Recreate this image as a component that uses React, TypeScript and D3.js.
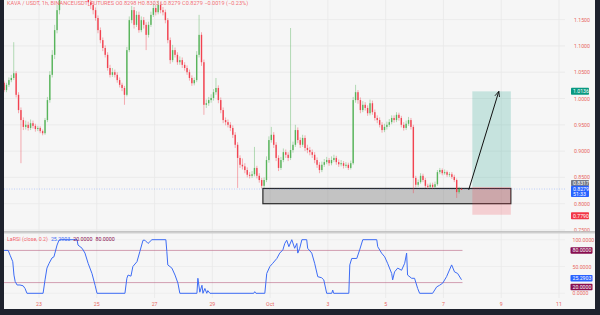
import React from 'react';
import * as d3 from 'd3';

const W = 600;
const H = 315;

// ---- data ----
const startTime = new Date(2023, 8, 21, 19); // first bar
const barHours = 2;
const firstOpen = 1.03;

const closes = [
  1.016, 1.026, 1.035, 1.039, 1.048, 1.007, 0.978, 0.959, 0.946, 0.95,
  0.944, 0.953, 0.948, 0.942, 0.944, 0.938, 0.934, 0.959, 0.997, 1.045,
  1.083, 1.13, 1.168, 1.197, 1.216, 1.229, 1.24, 1.248, 1.244, 1.254,
  1.244, 1.235, 1.221, 1.206, 1.197, 1.183, 1.178, 1.168, 1.153, 1.13,
  1.111, 1.096, 1.083, 1.058, 1.045, 1.05, 1.045, 1.035, 1.026, 1.02,
  1.007, 1.092, 1.149, 1.168, 1.14, 1.159, 1.13, 1.149, 1.14, 1.121,
  1.14, 1.159, 1.172, 1.164, 1.178, 1.168, 1.164, 1.149, 1.111, 1.073,
  1.092, 1.083, 1.069, 1.073, 1.064, 1.058, 1.05, 1.039, 1.029, 1.035,
  1.083, 1.121, 1.069, 0.988, 0.991, 0.997, 1.001, 1.012, 1.02, 0.997,
  0.978, 0.959, 0.955, 0.95, 0.944, 0.931, 0.912, 0.887, 0.874, 0.871,
  0.864, 0.855, 0.853, 0.856, 0.868, 0.853, 0.845, 0.834, 0.845, 0.883,
  0.921, 0.931, 0.912, 0.887, 0.868, 0.883, 0.898, 0.893, 0.887, 0.902,
  0.912, 0.94, 0.921, 0.912, 0.925, 0.906, 0.902, 0.898, 0.893, 0.883,
  0.874, 0.864, 0.874, 0.879, 0.883, 0.877, 0.883, 0.887, 0.879, 0.875,
  0.877, 0.872, 0.874, 0.868, 0.877, 0.997, 1.012, 0.997, 0.978, 0.988,
  0.982, 0.972, 0.991, 0.974, 0.963, 0.959, 0.95, 0.94, 0.946, 0.95,
  0.955, 0.963, 0.959, 0.969, 0.963, 0.95, 0.944, 0.952, 0.959, 0.946,
  0.849, 0.836, 0.841, 0.853, 0.845, 0.834, 0.832, 0.836, 0.832, 0.837,
  0.86, 0.864, 0.858, 0.86, 0.855, 0.856, 0.851, 0.845, 0.822, 0.828,
  0.8279,
];

const highs = [
  1.034, 1.03, 1.04, 1.045, 1.107, 1.052, 1.012, 0.983, 0.964, 0.958,
  0.956, 0.96, 0.958, 0.952, 0.948, 0.947, 0.941, 0.963, 1.003, 1.052,
  1.092, 1.14, 1.178, 1.205, 1.225, 1.238, 1.248, 1.256, 1.255, 1.262,
  1.26, 1.25, 1.24, 1.226, 1.212, 1.202, 1.19, 1.184, 1.173, 1.158,
  1.135, 1.116, 1.101, 1.088, 1.064, 1.058, 1.055, 1.05, 1.04, 1.03,
  1.024, 1.098, 1.156, 1.176, 1.174, 1.166, 1.165, 1.156, 1.155, 1.145,
  1.146, 1.165, 1.18, 1.178, 1.186, 1.184, 1.174, 1.169, 1.153, 1.116,
  1.102, 1.097, 1.088, 1.08, 1.078, 1.069, 1.063, 1.055, 1.044, 1.04,
  1.09, 1.159, 1.126, 1.074, 0.998, 1.003, 1.008, 1.018, 1.039, 1.025,
  1.002, 0.983, 0.964, 0.96, 0.955, 0.949, 0.936, 0.917, 0.892, 0.886,
  0.877, 0.869, 0.86, 0.862, 0.908, 0.872, 0.858, 0.849, 0.85, 0.89,
  0.928, 0.946, 0.936, 0.917, 0.892, 0.889, 0.905, 0.903, 0.898, 1.134,
  0.918, 0.95, 0.945, 0.926, 0.931, 0.93, 0.912, 0.908, 0.903, 0.898,
  0.888, 0.879, 0.88, 0.885, 0.889, 0.887, 0.89, 0.893, 0.891, 0.884,
  0.883, 0.881, 0.879, 0.878, 0.882, 1.003, 1.026, 1.016, 1.002, 0.995,
  0.993, 0.987, 0.998, 0.996, 0.979, 0.968, 0.964, 0.955, 0.952, 0.956,
  0.961, 0.968, 0.968, 0.974, 0.973, 0.967, 0.955, 0.958, 0.965, 0.963,
  0.95, 0.853, 0.846, 0.858, 0.857, 0.849, 0.838, 0.84, 0.84, 0.842,
  0.864, 0.868, 0.867, 0.865, 0.863, 0.86, 0.86, 0.855, 0.848, 0.832,
  0.8303,
];

const lows = [
  1.012, 1.012, 1.022, 1.031, 1.035, 1.002, 0.972, 0.877, 0.94, 0.941,
  0.939, 0.94, 0.943, 0.937, 0.938, 0.934, 0.93, 0.931, 0.955, 0.992,
  1.04, 1.075, 1.124, 1.16, 1.19, 1.208, 1.222, 1.234, 1.236, 1.238,
  1.238, 1.228, 1.215, 1.2, 1.19, 1.176, 1.17, 1.16, 1.148, 1.124,
  1.105, 1.09, 1.078, 1.053, 1.04, 1.041, 1.04, 1.03, 1.021, 1.014,
  0.988, 1.004, 1.088, 1.143, 1.133, 1.136, 1.125, 1.126, 1.133, 1.092,
  1.116, 1.136, 1.155, 1.158, 1.16, 1.162, 1.158, 1.143, 1.105, 1.066,
  1.069, 1.078, 1.064, 1.064, 1.058, 1.053, 1.045, 1.034, 1.024, 1.025,
  1.031, 1.078, 1.062, 0.969, 0.982, 0.986, 0.992, 0.996, 1.007, 0.991,
  0.972, 0.953, 0.949, 0.945, 0.938, 0.925, 0.906, 0.83, 0.868, 0.865,
  0.858, 0.85, 0.848, 0.849, 0.852, 0.848, 0.84, 0.829, 0.83, 0.841,
  0.878, 0.916, 0.906, 0.881, 0.862, 0.864, 0.879, 0.887, 0.881, 0.883,
  0.897, 0.908, 0.915, 0.906, 0.908, 0.9, 0.896, 0.892, 0.887, 0.877,
  0.868, 0.858, 0.86, 0.87, 0.875, 0.872, 0.873, 0.879, 0.874, 0.87,
  0.871, 0.867, 0.868, 0.864, 0.865, 0.874, 0.992, 0.99, 0.972, 0.974,
  0.977, 0.967, 0.968, 0.969, 0.958, 0.953, 0.945, 0.935, 0.936, 0.941,
  0.946, 0.951, 0.954, 0.955, 0.958, 0.945, 0.939, 0.94, 0.948, 0.941,
  0.82, 0.831, 0.832, 0.838, 0.841, 0.83, 0.828, 0.829, 0.828, 0.829,
  0.834, 0.856, 0.854, 0.855, 0.851, 0.851, 0.847, 0.841, 0.811, 0.819,
  0.826,
];

// LaRSI readings: [bar index, value]
const rsiPoints: [number, number][] = [
  [0, 80], [1.7, 80], [2.5, 71], [3.6, 59], [4.1, 34], [4.6, 22], [5.4, 15.5], [6.6, 15.5],
  [7.9, 14], [8.7, 9], [9.5, 0], [16.2, 0], [17, 25], [17.8, 47], [18.7, 56], [19.9, 66],
  [20.7, 68], [22, 90], [22.8, 99], [23.2, 100], [30.3, 100], [30.7, 90], [32.4, 84],
  [33.6, 75], [34.9, 56], [36.5, 37], [37.8, 15], [38.6, 0], [50.2, 0], [51, 28], [51.5, 34],
  [52.7, 32], [53.5, 50], [55.2, 59], [56.4, 78], [57.7, 99], [58.5, 99], [59.8, 93],
  [61.4, 100], [67.2, 100], [67.6, 78], [68, 53], [69.7, 47], [71, 34], [72.2, 19], [73, 0],
  [80.1, 0], [80.5, 28], [81.3, 2], [82.2, 15], [82.6, 0], [83.4, 9], [84.2, 0], [84.6, 5],
  [85.5, 0], [103.7, 0], [104.1, 3], [104.6, 0], [108.3, 0], [109.1, 37], [110.4, 50],
  [111.6, 56], [113.3, 65], [114.5, 75], [115.8, 81], [116.6, 93], [117.4, 99], [118.3, 87],
  [119.5, 100], [120.7, 84], [121.6, 93], [122, 75], [122.8, 84], [123.7, 100], [125.7, 100],
  [126.1, 84], [127.8, 75], [129, 56], [130.3, 31], [131.9, 29], [132.8, 25], [134, 0],
  [136.1, 0], [136.5, 6], [136.9, 0], [143.2, 0], [143.6, 53], [144.4, 65], [146.5, 65],
  [147.7, 81], [149, 100], [154.8, 100], [155.2, 87], [156.8, 75], [158.1, 68], [159.3, 56],
  [161, 37], [161.4, 25], [162.2, 40], [163.5, 47], [165.1, 43], [166.4, 56], [167.2, 75],
  [167.6, 34], [169.3, 28], [170.5, 28], [171.8, 9], [172.6, 0], [178, 0], [179.7, 12],
  [180.9, 15], [182.2, 19], [183.8, 31], [185.9, 53], [187.1, 40], [188.4, 37], [190, 25.29],
];

const priceTicks = [1.15, 1.1, 1.05, 1.0, 0.95, 0.9, 0.85, 0.8, 0.75];
const rsiTicks = [100, 50, 0];
const rsiBands = [80, 20];
const timeTickDates = [
  new Date(2023, 8, 23), new Date(2023, 8, 25), new Date(2023, 8, 27), new Date(2023, 8, 29),
  new Date(2023, 9, 1), new Date(2023, 9, 3), new Date(2023, 9, 5), new Date(2023, 9, 7),
  new Date(2023, 9, 9), new Date(2023, 9, 11),
];
const timeTickLabels = ['23', '25', '27', '29', 'Oct', '3', '5', '7', '9', '11'];

// drawings
const zoneTop = 0.829;
const zoneBottom = 0.8;
const zoneStart = new Date(2023, 8, 30, 18);
const posStart = new Date(2023, 9, 8, 0);
const posEnd = new Date(2023, 9, 9, 8);
const entryPrice = 0.8317;
const targetPrice = 1.0136;
const stopPrice = 0.779;
const arrowFrom: [Date, number] = [new Date(2023, 9, 7, 21), 0.8265];
const arrowTo: [Date, number] = [new Date(2023, 9, 8, 22), 1.0136];

const lastPrice = 0.8279;
const lastRsi = 25.2903;

const GREEN = '#4caf50';
const RED = '#f23645';
const LABEL = '#e8675f';
const FONT = 'Roboto, "DejaVu Sans", sans-serif';

export default function App() {
  const x = d3.scaleTime().domain([new Date(2023, 8, 23), new Date(2023, 9, 11)]).range([39, 559]);
  const y = d3.scaleLinear().domain([0.75, 1.15]).range([230, 19.6]);
  const yr = d3.scaleLinear().domain([0, 100]).range([293.3, 239.7]);
  const barTime = (i: number) => new Date(startTime.getTime() + i * barHours * 3600e3);

  const rsiLine = d3
    .line<[number, number]>()
    .x((d) => x(barTime(d[0])))
    .y((d) => yr(d[1]));

  const plotL = 4;
  const plotR = 565;
  const bw = 1.4;

  const badge = (cy: number, text: string, bg: string, w = 18, h = 7, x0 = 571) => (
    <g>
      <rect x={x0} y={cy - h / 2} width={w} height={h} fill={bg} rx={0.8} />
      <text x={x0 + 2} y={cy + 2} fontSize={5.2} fill="#fff" fontFamily={FONT}>
        {text}
      </text>
    </g>
  );

  return (
    <svg width={W} height={H} style={{ position: 'absolute', left: 0, top: 0, display: 'block' }}>
      <defs>
        <clipPath id="pricePane">
          <rect x={plotL} y={0} width={plotR - plotL} height={231} />
        </clipPath>
        <clipPath id="rsiPane">
          <rect x={plotL} y={234} width={plotR - plotL} height={72} />
        </clipPath>
        <marker id="arrowHead" viewBox="0 0 10 10" refX="9" refY="5" markerWidth="6" markerHeight="6" orient="auto">
          <path d="M0,1 L9,5 L0,9" fill="none" stroke="#111" strokeWidth={1.4} />
        </marker>
      </defs>
      <rect x={0} y={0} width={W} height={H} fill="#1e222d" />
      <rect x={plotL} y={0} width={595 - plotL} height={309} fill="#f6f6f6" />

      {/* grid */}
      {priceTicks.map((p) => (
        <line key={'hg' + p} x1={plotL} x2={plotR} y1={y(p)} y2={y(p)} stroke="#e8e8e8" strokeWidth={0.8} />
      ))}
      {rsiTicks.map((v) => (
        <line key={'rg' + v} x1={plotL} x2={plotR} y1={yr(v)} y2={yr(v)} stroke="#ececec" strokeWidth={0.8} />
      ))}
      {timeTickDates.map((d, i) => (
        <line key={'vg' + i} x1={x(d)} x2={x(d)} y1={0} y2={298} stroke="#e8e8e8" strokeWidth={0.8} />
      ))}

      {/* price pane */}
      <g clipPath="url(#pricePane)">
        {/* long position */}
        <rect
          x={x(posStart)}
          y={y(targetPrice)}
          width={x(posEnd) - x(posStart)}
          height={y(entryPrice) - y(targetPrice)}
          fill="rgba(8,153,129,0.2)"
        />
        {/* zone */}
        <rect
          x={x(zoneStart)}
          y={y(zoneTop)}
          width={x(posEnd) - x(zoneStart)}
          height={y(zoneBottom) - y(zoneTop)}
          fill="rgba(120,120,120,0.4)"
          stroke="#2a2a2a"
          strokeWidth={1.2}
        />
        <rect
          x={x(posStart)}
          y={y(entryPrice)}
          width={x(posEnd) - x(posStart)}
          height={y(stopPrice) - y(entryPrice)}
          fill="rgba(242,54,69,0.2)"
        />

        {/* last price line */}
        <line
          x1={plotL}
          x2={plotR}
          y1={y(lastPrice)}
          y2={y(lastPrice)}
          stroke="#2962ff"
          strokeOpacity={0.35}
          strokeWidth={0.8}
          strokeDasharray="1 1.5"
        />

        {/* candles */}
        {closes.map((c, i) => {
          const o = i === 0 ? firstOpen : closes[i - 1];
          const col = c >= o ? GREEN : RED;
          const cx = x(barTime(i));
          const top = y(Math.max(o, c));
          const bot = y(Math.min(o, c));
          return (
            <g key={'c' + i}>
              <line x1={cx} x2={cx} y1={y(highs[i])} y2={y(lows[i])} stroke={col} strokeOpacity={0.4} strokeWidth={1} />
              <rect x={cx - bw / 2} y={top} width={bw} height={Math.max(0.8, bot - top)} fill={col} fillOpacity={0.9} />
            </g>
          );
        })}

        {/* arrow */}
        <line
          x1={x(arrowFrom[0])}
          y1={y(arrowFrom[1])}
          x2={x(arrowTo[0])}
          y2={y(arrowTo[1])}
          stroke="#111"
          strokeWidth={1}
          markerEnd="url(#arrowHead)"
        />
      </g>

      {/* header legend */}
      <text x={7} y={5} fontSize={5.6} fill={RED} fillOpacity={0.75} fontFamily={FONT}>
        KAVA / USDT, 1h, BINANCEUSDT_FUTURES  O0.8298  H0.8303  L0.8279  C0.8279  −0.0019 (−0.23%)
      </text>

      {/* price axis labels */}
      {priceTicks.map((p) => (
        <text key={'pt' + p} x={574} y={y(p) + 2} fontSize={5.2} fill={LABEL} fontFamily={FONT}>
          {p.toFixed(4)}
        </text>
      ))}
      {badge(y(targetPrice), targetPrice.toFixed(4), '#089981')}
      {badge(y(lastPrice) - 6, entryPrice.toFixed(4), '#787b86', 18, 6)}
      <g>
        <rect x={571} y={y(lastPrice) - 3.3} width={18} height={11.3} fill="#2962ff" rx={0.8} />
        <text x={573} y={y(lastPrice) + 1.8} fontSize={5.2} fill="#fff" fontFamily={FONT}>
          {lastPrice.toFixed(4)}
        </text>
        <text x={573} y={y(lastPrice) + 6.8} fontSize={5.2} fill="#fff" fontFamily={FONT}>
          51:33
        </text>
      </g>
      {badge(y(stopPrice) + 1, stopPrice.toFixed(4), RED)}

      {/* pane separator */}
      <rect x={plotL} y={231.5} width={595 - plotL} height={2} fill="#cfcfcf" />
      <rect x={plotL} y={231} width={595 - plotL} height={0.6} fill="#b0b0b0" />

      {/* RSI pane */}
      <g clipPath="url(#rsiPane)">
        {rsiBands.map((v) => (
          <line
            key={'band' + v}
            x1={plotL}
            x2={x(barTime(190)) + 1}
            y1={yr(v)}
            y2={yr(v)}
            stroke="#b5577a"
            strokeOpacity={0.55}
            strokeWidth={1}
          />
        ))}
        <path d={rsiLine(rsiPoints) || ''} fill="none" stroke="#3d6cf5" strokeWidth={1} />
      </g>
      <text x={7} y={240.8} fontSize={5.3} fontFamily={FONT}>
        <tspan fill={RED} fillOpacity={0.8}>LaRSI (close, 0.2)</tspan>
        <tspan fill="#3d6cf5" dx={3}>{lastRsi.toFixed(4)}</tspan>
        <tspan fill="#880e4f" dx={3}>20.0000</tspan>
        <tspan fill="#880e4f" dx={3}>80.0000</tspan>
      </text>

      {rsiTicks.map((v) => (
        <text key={'rt' + v} x={572.5} y={yr(v) + 2} fontSize={5.2} fill={LABEL} fontFamily={FONT}>
          {v.toFixed(4)}
        </text>
      ))}
      {badge(yr(80), '80.0000', '#880e4f', 22, 6.5, 570.5)}
      {badge(yr(lastRsi) - 1.5, lastRsi.toFixed(4), '#2962ff', 22, 6.5, 570.5)}
      {badge(yr(20) + 4.5, '20.0000', '#880e4f', 22, 6.5, 570.5)}

      {/* time axis */}
      {timeTickDates.map((d, i) => (
        <text
          key={'tt' + i}
          x={x(d)}
          y={305.5}
          fontSize={5.2}
          fill={LABEL}
          textAnchor="middle"
          fontFamily={FONT}
        >
          {timeTickLabels[i]}
        </text>
      ))}
    </svg>
  );
}
